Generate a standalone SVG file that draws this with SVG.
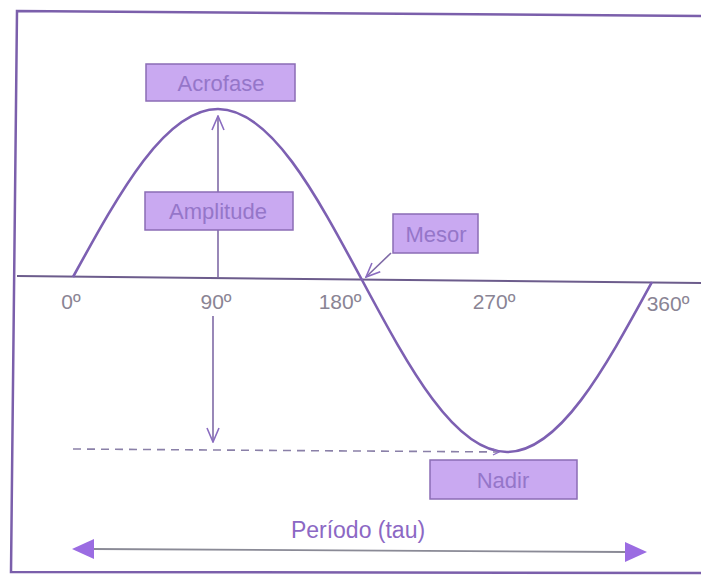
<svg xmlns="http://www.w3.org/2000/svg" width="701" height="577" viewBox="0 0 701 577">
<style>
.box{fill:#c9a9f1;stroke:#8b6cb5;stroke-width:1.5}
.bt{font-family:"Liberation Sans",Arial,sans-serif;font-size:22px;fill:#9576c9;text-anchor:middle}
.ang{font-family:"Liberation Sans",Arial,sans-serif;font-size:21px;fill:#8a8494;text-anchor:middle}
.thin{fill:none;stroke:#7f6aa6;stroke-width:1.6}
</style>
<defs>
<marker id="openL" viewBox="0 0 16 16" refX="15" refY="8" markerWidth="16" markerHeight="16" markerUnits="userSpaceOnUse" orient="auto">
<path d="M1,2 L15,8 L1,14" fill="none" stroke="#8a6cc0" stroke-width="1.6"/>
</marker>
<marker id="fill" viewBox="0 0 22 20" refX="21" refY="10" markerWidth="22" markerHeight="20" markerUnits="userSpaceOnUse" orient="auto">
<path d="M0,0 L22,10 L0,20 Z" fill="#9b6ce2"/>
</marker>
<marker id="tiny" viewBox="0 0 8 8" refX="7" refY="4" markerWidth="8" markerHeight="8" markerUnits="userSpaceOnUse" orient="auto">
<path d="M1,1 L7,4 L1,7" fill="none" stroke="#8a6cc0" stroke-width="1.2"/>
</marker>
</defs>
<rect width="701" height="577" fill="#ffffff"/>
<g id="frame" fill="none" stroke="#7b5fab" stroke-width="2.5">
<polyline points="701,16 17,11 11,572 701,573"/>
</g>
<g id="axis">
<line x1="17" y1="276" x2="701" y2="283" stroke="#6c5c8c" stroke-width="2"/>
</g>
<g id="curve">
<path d="M73,277 C120.3,190.9 165.5,109 218,109 C270.1,109 315,192.4 362,280 C409.3,368.1 454.5,452 507,452 C559.5,452 604.7,368.6 652,282" fill="none" stroke="#7d60b2" stroke-width="2.6"/>
</g>
<g id="connectors">
<line x1="218" y1="277" x2="218" y2="116" class="thin" marker-end="url(#openL)"/>
<line x1="213" y1="316" x2="213" y2="442" class="thin" marker-end="url(#openL)"/>
<line x1="391" y1="253" x2="366" y2="277" class="thin" marker-end="url(#openL)"/>
<line x1="73" y1="449" x2="499" y2="452" fill="none" stroke="#8a80a8" stroke-width="1.6" stroke-dasharray="8,6" marker-end="url(#tiny)"/>
<line x1="92" y1="549" x2="626" y2="552" stroke="#8a8a96" stroke-width="1.8"/>
<line x1="95" y1="549" x2="73" y2="549" stroke="none" marker-end="url(#fill)"/>
<line x1="620" y1="552" x2="646" y2="552" stroke="none" marker-end="url(#fill)"/>
</g>
<g id="acrofase">
<rect x="146" y="64" width="149" height="37" class="box"/>
<text x="221" y="91" class="bt">Acrofase</text>
</g>
<g id="amplitude">
<rect x="145" y="192" width="148" height="38" class="box"/>
<text x="218" y="219" class="bt">Amplitude</text>
</g>
<g id="mesor">
<rect x="393" y="214" width="85" height="39" class="box"/>
<text x="436" y="242" class="bt">Mesor</text>
</g>
<g id="nadir">
<rect x="430" y="460" width="147" height="39" class="box"/>
<text x="503" y="488" class="bt">Nadir</text>
</g>
<g id="labels">
<text x="71" y="309" class="ang">0º</text>
<text x="216" y="309" class="ang">90º</text>
<text x="340" y="309" class="ang">180º</text>
<text x="494" y="309" class="ang">270º</text>
<text x="668" y="311" class="ang">360º</text>
<text x="358" y="538" font-family="'Liberation Sans',Arial,sans-serif" font-size="23" fill="#8c68c4" text-anchor="middle">Período (tau)</text>
</g>
</svg>
